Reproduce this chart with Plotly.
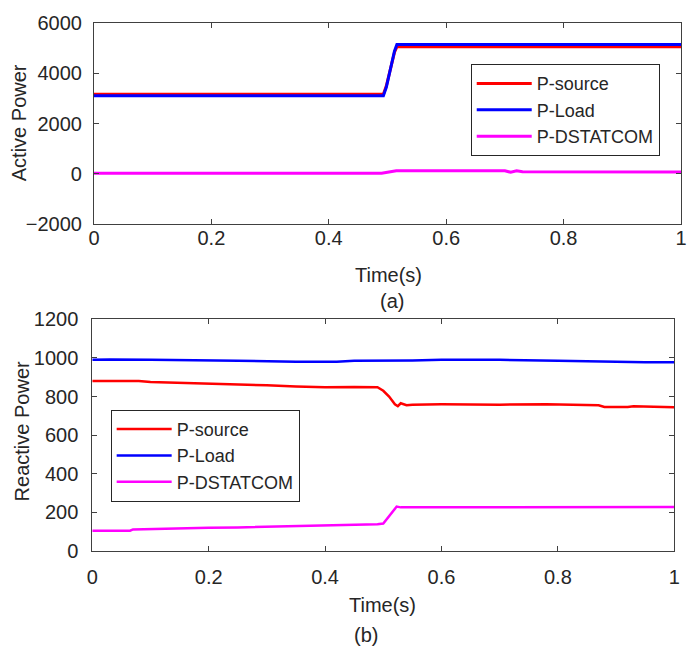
import plotly.graph_objects as go

# (a) active power
t_a = [0, 0.1, 0.2, 0.3, 0.4, 0.493, 0.498, 0.503, 0.508, 0.512, 0.516, 0.6, 0.7, 0.8, 0.9, 1.0]
p_source_a = [3170, 3170, 3170, 3170, 3170, 3170, 3500, 3950, 4450, 4850, 5060, 5060, 5060, 5060, 5060, 5060]
p_load_a = [3110, 3110, 3110, 3110, 3110, 3110, 3450, 3950, 4500, 4900, 5150, 5150, 5150, 5150, 5150, 5150]

t_a_dst = [0, 0.1, 0.2, 0.3, 0.4, 0.49, 0.5, 0.515, 0.6, 0.7, 0.71, 0.72, 0.73, 0.8, 0.9, 1.0]
p_dst_a = [20, 20, 20, 20, 20, 20, 60, 120, 120, 120, 60, 120, 80, 75, 70, 70]

# (b) reactive power
t_src_b = [0, 0.08, 0.1, 0.17, 0.23, 0.3, 0.35, 0.4, 0.45, 0.49, 0.5, 0.51, 0.52, 0.525, 0.53, 0.54,
           0.55, 0.6, 0.7, 0.78, 0.87, 0.88, 0.92, 0.93, 1.0]
q_source_b = [880, 880, 875, 870, 862, 858, 852, 848, 850, 848, 830, 800, 760, 750, 765, 755,
              758, 760, 758, 760, 755, 746, 746, 750, 745]

t_load_b = [0, 0.03, 0.1, 0.2, 0.25, 0.35, 0.42, 0.45, 0.5, 0.55, 0.6, 0.7, 0.8, 0.85, 0.9, 0.95, 1.0]
q_load_b = [990, 992, 990, 988, 985, 980, 980, 985, 985, 987, 990, 990, 985, 982, 978, 978, 977]

t_dst_b = [0, 0.065, 0.07, 0.16, 0.2, 0.25, 0.3, 0.35, 0.37, 0.45, 0.49, 0.5, 0.51, 0.52, 0.523, 0.53,
           0.6, 0.7, 0.72, 0.8, 0.9, 1.0]
q_dst_b = [105, 105, 112, 115, 120, 122, 125, 128, 132, 133, 138, 142, 180, 222, 230, 226,
           226, 226, 229, 228, 228, 228]

names = ["P-source", "P-Load", "P-DSTATCOM"]
colors = ["#ff0000", "#0000ff", "#ff00ff"]
x_ticks = [0, 0.2, 0.4, 0.6, 0.8, 1]
y_ticks_a = [-2000, 0, 2000, 4000, 6000]
y_ticks_b = [0, 200, 400, 600, 800, 1000, 1200]

FONT = "Liberation Sans, Arial, sans-serif"
TXT = "#262626"

fig = go.Figure()

top = [(t_a, p_source_a), (t_a, p_load_a), (t_a_dst, p_dst_a)]
for (x, y), n, c in zip(top, names, colors):
    fig.add_trace(go.Scatter(x=x, y=y, mode="lines", name=n, line=dict(color=c, width=3),
                             xaxis="x", yaxis="y", legend="legend"))

bottom = [(t_src_b, q_source_b), (t_load_b, q_load_b), (t_dst_b, q_dst_b)]
for (x, y), n, c in zip(bottom, names, colors):
    fig.add_trace(go.Scatter(x=x, y=y, mode="lines", name=n, line=dict(color=c, width=2.5),
                             xaxis="x2", yaxis="y2", legend="legend2"))

axis_style = dict(showline=True, linecolor="#404040", linewidth=1, mirror="ticks",
                  ticks="inside", ticklen=5, tickcolor="#404040", showgrid=False, zeroline=False,
                  automargin=False, tickfont=dict(family=FONT, size=20, color=TXT))

legend_style = dict(xanchor="left", yanchor="top", bgcolor="white", itemwidth=55,
                    bordercolor="#262626", borderwidth=1, font=dict(family=FONT, size=18, color=TXT))

# page shows the figure offset by the 8px body margin, so size it 684x642
fig.update_layout(
    width=684, height=642,
    margin=dict(l=0, r=0, t=0, b=0, pad=0, autoexpand=False),
    paper_bgcolor="white", plot_bgcolor="white",
    showlegend=True,
    xaxis=dict(domain=[0.1257, 0.9839], range=[0, 1], tickvals=x_ticks, anchor="y",
               ticklabelstandoff=-4, **axis_style),
    yaxis=dict(domain=[0.6636, 0.9762], range=[-2000, 6000], tickvals=y_ticks_a, anchor="x",
               ticklabelstandoff=7, **axis_style),
    xaxis2=dict(domain=[0.1232, 0.9741], range=[0, 1], tickvals=x_ticks, anchor="y2",
                ticklabelstandoff=8, **axis_style),
    yaxis2=dict(domain=[0.1542, 0.5151], range=[0, 1200], tickvals=y_ticks_b, anchor="x2",
                ticklabelstandoff=9, **axis_style),
    legend=dict(x=0.6765, y=0.9125, **legend_style),
    legend2=dict(x=0.1501, y=0.3741, **legend_style),
)

labels = [
    ("Time(s)", 0.5556, 0.5841, 0),
    ("(a)", 0.5614, 0.5436, 0),
    ("Time(s)", 0.5482, 0.0701, 0),
    ("(b)", 0.5234, 0.0234, 0),
    ("Active Power", 0.0172, 0.8217, -90),
    ("Reactive Power", 0.02, 0.34, -90),
]
for text, x, y, ang in labels:
    fig.add_annotation(text=text, x=x, y=y, xref="paper", yref="paper", showarrow=False,
                       xanchor="center", yanchor="middle", textangle=ang,
                       font=dict(family=FONT, size=20, color=TXT))

fig.write_html("out.html")
